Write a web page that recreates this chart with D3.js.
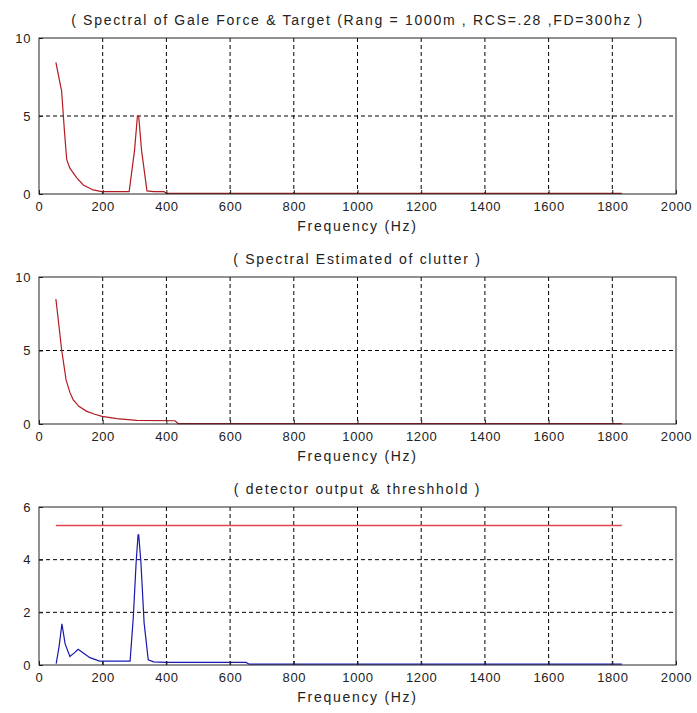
<!doctype html>
<html lang="en">
<head>
<meta charset="UTF-8">
<title>Spectral plots</title>
<script src="https://d3js.org/d3.v7.min.js"></script>
<style>
body { margin: 0; background: #ffffff; font-family: "Liberation Sans", Arial, sans-serif; }
svg { display: block; }
.tick text { font-family: "Liberation Sans", Arial, sans-serif; font-size: 13px; fill: #222; letter-spacing: 0.6px; }
.grid line { stroke: #000; stroke-dasharray: 4,3; stroke-width: 1; }
.frame { fill: none; stroke: #222; stroke-width: 1; }
.label { font-size: 14px; fill: #222; letter-spacing: 1.7px; text-anchor: middle; }
</style>
</head>
<body>
<div id="plot"></div>
<script>

var width = 697;
var height = 713;

// x axis ticks shared by all three panels
var freqTicks = [0, 200, 400, 600, 800, 1000, 1200, 1400, 1600, 1800, 2000];

// panel 1: gale force + target spectrum
var freq1 = [53, 71, 80, 87, 97, 118, 139, 170, 197, 240, 283, 300, 309, 313, 322, 339, 360, 393, 400, 700, 1000, 1400, 1830];
var val1  = [8.43, 6.6, 4.0, 2.2, 1.66, 1.05, 0.58, 0.26, 0.15, 0.15, 0.15, 2.8, 5.0, 5.0, 2.8, 0.2, 0.15, 0.15, 0.04, 0.04, 0.04, 0.04, 0.04];

// panel 2: clutter spectrum estimate
var freq2 = [53, 62, 71, 85, 97, 107, 125, 150, 175, 198, 244, 307, 427, 437, 700, 1000, 1400, 1830];
var val2  = [8.5, 6.8, 5.07, 3.0, 2.15, 1.66, 1.2, 0.86, 0.66, 0.52, 0.36, 0.24, 0.22, 0.03, 0.03, 0.03, 0.03, 0.03];

// panel 3: detector output and threshold
var freq3 = [54, 63, 72, 82, 97, 110, 123, 140, 160, 190, 230, 286, 296, 305, 311, 313, 320, 330, 343, 360, 400, 650, 660, 1000, 1400, 1830];
var val3  = [0.05, 0.7, 1.56, 0.8, 0.32, 0.45, 0.6, 0.45, 0.28, 0.15, 0.15, 0.15, 1.8, 3.9, 4.94, 4.94, 3.9, 1.6, 0.2, 0.12, 0.1, 0.1, 0.03, 0.03, 0.03, 0.03];
var threshFreq = [53, 1830];
var threshVal = [5.3, 5.3];

var titles = [
	"( Spectral of Gale Force & Target (Rang = 1000m , RCS=.28 ,FD=300hz )",
	"( Spectral Estimated of clutter )",
	"( detector output & threshhold )"
];
var xLabel = "Frequency (Hz)";

var svg = d3.select("#plot").append("svg")
	.attr("width", width)
	.attr("height", height);

var left = 39, right = 676;

var xScale = d3.scaleLinear().domain([0, 2000]).range([left, right]);

function drawPanel(top, bottom, yMax, yTicks, series, title) {
	var yScale = d3.scaleLinear().domain([0, yMax]).range([bottom, top]);
	var g = svg.append("g");

	// dashed grid
	g.append("g").attr("class", "grid")
		.selectAll("line.v").data(freqTicks.slice(1, -1)).enter().append("line")
		.attr("x1", function (d) { return xScale(d); })
		.attr("x2", function (d) { return xScale(d); })
		.attr("y1", top).attr("y2", bottom);
	g.append("g").attr("class", "grid")
		.selectAll("line.h").data(yTicks.slice(1, -1)).enter().append("line")
		.attr("x1", left).attr("x2", right)
		.attr("y1", function (d) { return yScale(d); })
		.attr("y2", function (d) { return yScale(d); });

	var line = d3.line()
		.x(function (d) { return xScale(d[0]); })
		.y(function (d) { return yScale(d[1]); });

	series.forEach(function (s) {
		g.append("path")
			.datum(d3.zip(s.f, s.v))
			.attr("d", line)
			.style("fill", "none")
			.style("stroke", s.color)
			.style("stroke-width", s.w || 1.2);
	});

	var xAxis = d3.axisBottom(xScale).tickValues(freqTicks).tickSize(-4).tickPadding(8).tickFormat(d3.format("d"));
	g.append("g")
		.attr("transform", "translate(0," + bottom + ")")
		.call(xAxis)
		.call(function (a) { a.select(".domain").remove(); a.selectAll(".tick line").style("stroke", "#222"); });

	var yAxis = d3.axisLeft(yScale).tickValues(yTicks).tickSize(-4).tickPadding(8).tickFormat(d3.format("d"));
	g.append("g")
		.attr("transform", "translate(" + left + ",0)")
		.call(yAxis)
		.call(function (a) { a.select(".domain").remove(); a.selectAll(".tick line").style("stroke", "#222"); });

	g.append("rect").attr("class", "frame")
		.attr("x", left).attr("y", top)
		.attr("width", right - left).attr("height", bottom - top);

	g.append("text").attr("class", "label")
		.attr("x", (left + right) / 2).attr("y", top - 13)
		.text(title);
	g.append("text").attr("class", "label")
		.attr("x", (left + right) / 2).attr("y", bottom + 37)
		.text(xLabel);
}

drawPanel(38, 194, 10, [0, 5, 10],
	[{ f: freq1, v: val1, color: "#b31b22" }], titles[0]);
drawPanel(277, 424, 10, [0, 5, 10],
	[{ f: freq2, v: val2, color: "#b31b22" }], titles[1]);
drawPanel(507, 665, 6, [0, 2, 4, 6],
	[{ f: threshFreq, v: threshVal, color: "#e0454c", w: 1.4 },
	 { f: freq3, v: val3, color: "#1818b0" }], titles[2]);

</script>
</body>
</html>
